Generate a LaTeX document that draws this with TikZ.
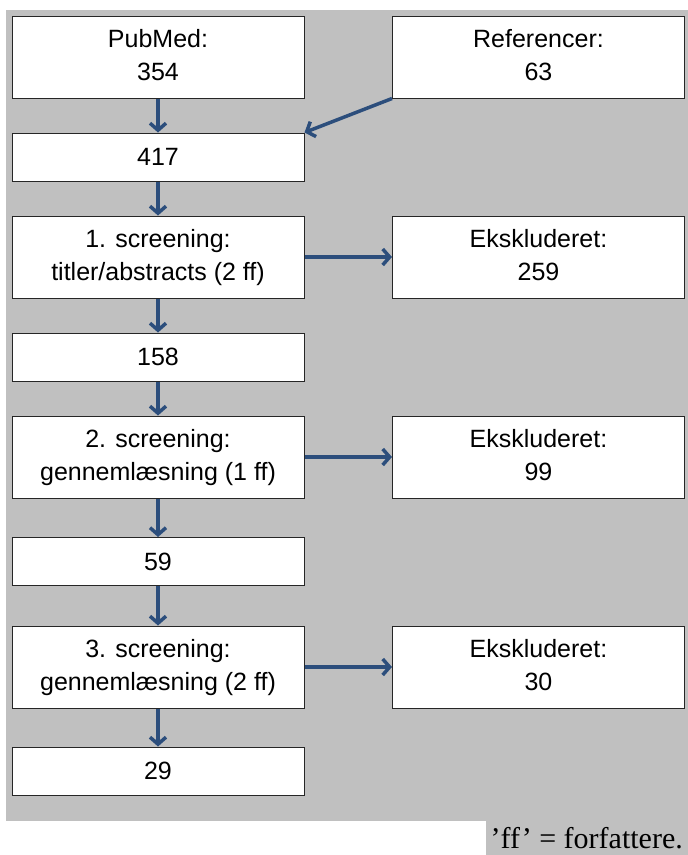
\documentclass[tikz,border=0pt]{standalone}
\usepackage{fontspec}
\setmainfont{Liberation Serif}
\setsansfont{Liberation Sans}
\usepackage{xcolor}
\usepackage{tikz}
\usetikzlibrary{arrows.meta}
\usetikzlibrary{positioning}
\definecolor{bggray}{RGB}{192,192,192}
\definecolor{pilblue}{RGB}{44,78,124}
\tikzset{
    stepbox/.style={
      rectangle,
      draw=black!85, line width=1pt,
      fill=white,
      minimum width=292pt,
      minimum height=82pt,
      inner sep=2pt,
      text centered,
      font=\sffamily\fontsize{25}{33}\selectfont,
    },
    countbox/.style={
      stepbox,
      minimum height=48pt,
    },
    pil/.style={
      draw=pilblue, line width=3.5pt,
    },
}

\begin{document}
\begin{tikzpicture}[x=1pt,y=1pt,->,>={Straight Barb[length=7pt,width=16pt]}]

    \useasboundingbox (0,0) rectangle (688,-855);
    \fill[bggray] (6,-10) rectangle (688,-821);

    \node[stepbox] (PM) at (158,-57)
    {
      \begin{tabular}{c}
        PubMed: \\
        354
      \end{tabular}
    };

    \node[stepbox,
    right of=PM,
    node distance=380.5pt] (REF)
    {
      \begin{tabular}{c}
        Referencer: \\
        63
      \end{tabular}
    };

    \node[countbox,
    below of=PM,
    node distance=100pt] (N0) {417};

    \node[stepbox,
    below of=N0,
    node distance=100pt] (S1)
    {
      \begin{tabular}{c}
        1. screening: \\
        titler/abstracts (2 ff)
      \end{tabular}
    };

    \node[stepbox,
    right of=S1,
    node distance=380.5pt] (EX1)
    {
      \begin{tabular}{c}
        Ekskluderet: \\
        259
      \end{tabular}
    };

    \node[countbox,
    below of=S1,
    node distance=100pt] (N1) {158};

    \node[stepbox,
    below of=N1,
    node distance=100pt] (S2)
    {
      \begin{tabular}{c}
        2. screening: \\
        gennemlæsning (1 ff)
      \end{tabular}
    };

    \node[stepbox,
    right of=S2,
    node distance=380.5pt] (EX2)
    {
      \begin{tabular}{c}
        Ekskluderet: \\
        99
      \end{tabular}
    };

    \node[countbox,
    below of=S2,
    node distance=104.5pt] (N2) {59};

    \node[stepbox,
    below of=N2,
    node distance=105.5pt] (S3)
    {
      \begin{tabular}{c}
        3. screening: \\
        gennemlæsning (2 ff)
      \end{tabular}
    };

    \node[stepbox,
    right of=S3,
    node distance=380.5pt] (EX3)
    {
      \begin{tabular}{c}
        Ekskluderet: \\
        30
      \end{tabular}
    };

    \node[countbox,
    below of=S3,
    node distance=104pt] (N3) {29};

    % note under the chart
    \node[fill=bggray, anchor=south east,
    minimum height=34pt, inner xsep=5pt, inner ysep=0pt,
    font=\fontsize{30}{34}\selectfont] (NOTE) at (688,-855)
    {’ff’ = forfattere.};

    \path
    (PM) edge[pil] (N0)
    (REF.south west) edge[pil] (N0.north east)

    (N0) edge[pil] (S1)
    (S1) edge[pil] (EX1)

    (S1) edge[pil] (N1)
    (N1) edge[pil] (S2)
    (S2) edge[pil] (EX2)

    (S2) edge[pil] (N2)
    (N2) edge[pil] (S3)
    (S3) edge[pil] (EX3)

    (S3) edge[pil] (N3);

\end{tikzpicture}
\end{document}
